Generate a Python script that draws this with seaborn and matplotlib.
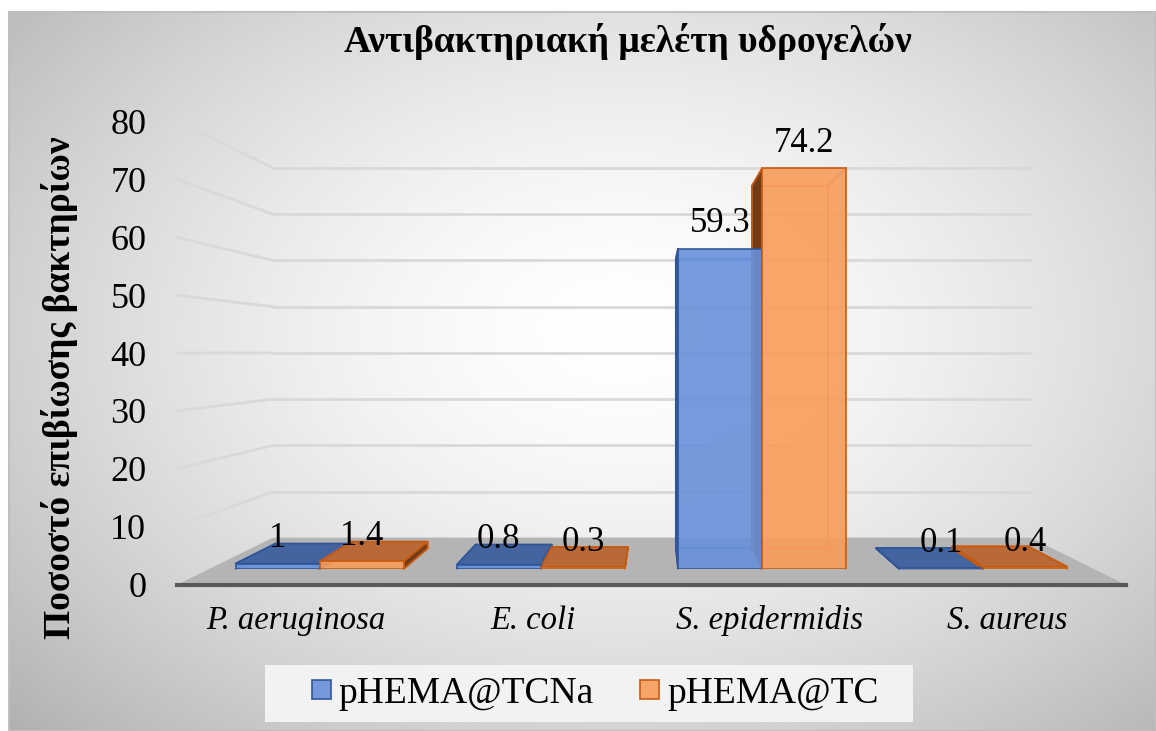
import numpy as np
import pandas as pd
import matplotlib
matplotlib.use("Agg")
import matplotlib.pyplot as plt
import seaborn as sns
from matplotlib.patches import Polygon, Rectangle
from matplotlib.lines import Line2D

# ---- data -------------------------------------------------------------
bacteria = ["P. aeruginosa", "E. coli", "S. epidermidis", "S. aureus"]
survival_tcna = [1, 0.8, 59.3, 0.1]
survival_tc = [1.4, 0.3, 74.2, 0.4]
series_names = ["pHEMA@TCNa", "pHEMA@TC"]
value_ticks = [0, 10, 20, 30, 40, 50, 60, 70, 80]

title_text = "Αντιβακτηριακή μελέτη υδρογελών"
ylabel_text = "Ποσοστό επιβίωσης βακτηρίων"

df = pd.DataFrame({
    "bacteria": bacteria * 2,
    "survival": survival_tcna + survival_tc,
    "series": [series_names[0]] * len(bacteria) + [series_names[1]] * len(bacteria),
})

# ---- styling ----------------------------------------------------------
BLUE, ORANGE = "#6790da", "#f89c5a"
BLUE_EDGE, ORANGE_EDGE = "#2f5597", "#c55a11"
BLUE_TOP, ORANGE_TOP = "#44649f", "#b96937"
BLUE_SIDE, ORANGE_SIDE = "#3d5d9e", "#6e3c19"
BLUE_INNER, ORANGE_INNER = "#5a7fc8", "#e8803a"

W, H = 1156, 731
sns.set_theme(style="white")
plt.rcParams["font.family"] = ["Liberation Serif", "DejaVu Serif"]

fig = plt.figure(figsize=(W / 100, H / 100), dpi=100)

# perspective of the 3-D box (pixel space, y measured from the bottom)
VPX, VPY = 655.0, H - 352.6
FRONT = (209.0, H - 569.0, 885.0, 432.0)   # bars' front plane: x0, y0, w, h
S_FLOOR, S_WALL, S_DEPTH = 1.072, 0.856, 0.905


def proj(x, y, s):
    return VPX + (x - VPX) * s, VPY + (y - VPY) * s


def plane_rect(s):
    x0, y0, w, h = FRONT
    px, py = proj(x0, y0, s)
    return [px / W, py / H, w * s / W, h * s / H]


def to_fig(pts):
    return fig.transFigure.inverted().transform(np.asarray(pts, dtype=float))


# ---- background: soft radial gradient inside a framed chart area ----------
bg = fig.add_axes([0, 0, 1, 1], zorder=-10)
bg.set_xlim(0, W)
bg.set_ylim(0, H)
bg.axis("off")
xx, yy = np.meshgrid(np.arange(W) + 0.5, np.arange(H) + 0.5)
ytd = H - yy
d = np.sqrt(((xx - 620) / 700) ** 2 + ((ytd - 330) / 480) ** 2)
shade = (255 - 58 * np.clip(d, 0, 1.2) ** 1.6) / 255
shade[(xx < 9) | (ytd < 12)] = 1.0
bg.imshow(np.dstack([shade] * 3), extent=(0, W, 0, H), origin="lower",
          aspect="auto", interpolation="bilinear")
bg.add_patch(Rectangle((9, 0), W - 9, H - 12, fill=False, edgecolor="#bfbfbf", lw=1.5))
# legend panel
bg.add_patch(Rectangle((265, H - 722), 648, 57, facecolor="#f2f2f2",
                       edgecolor="none", zorder=2))

# ---- back wall with gridlines --------------------------------------------
ax_wall = fig.add_axes(plane_rect(S_WALL), zorder=1)
ax_wall.set_xlim(-0.5, 3.5)
ax_wall.set_ylim(0, 80)
ax_wall.set_yticks(value_ticks)
ax_wall.set_xticks([])
ax_wall.tick_params(left=False, labelleft=False)
ax_wall.grid(axis="y", color="#d9d9d9", lw=2)
for gl in ax_wall.get_ygridlines():
    gl.set_clip_on(False)
ax_wall.patch.set_alpha(0)
for sp in ax_wall.spines.values():
    sp.set_visible(False)

# ---- front (floor edge) axes: value ticks and category labels -------------
ax_floor = fig.add_axes(plane_rect(S_FLOOR), zorder=2)
ax_floor.set_xlim(-0.5, 3.5)
ax_floor.set_ylim(0, 80)
ax_floor.set_yticks(value_ticks)
ax_floor.set_xticks(range(len(bacteria)), bacteria, fontstyle="italic", fontsize=23.5)
ax_floor.tick_params(axis="y", length=0, pad=22, labelsize=26, colors="black")
ax_floor.tick_params(axis="x", length=0, pad=15, colors="black")
ax_floor.patch.set_alpha(0)
for name, sp in ax_floor.spines.items():
    sp.set_visible(name == "bottom")
ax_floor.spines["bottom"].set_color("#595959")
ax_floor.spines["bottom"].set_linewidth(3)

# side-wall gridlines joining the front edge to the back wall
for v in value_ticks:
    p_front = ax_floor.transData.transform((-0.5, v))
    p_back = ax_wall.transData.transform((-0.5, v))
    pts = to_fig([p_front, p_back])
    ax_wall.add_artist(Line2D(pts[:, 0], pts[:, 1], transform=fig.transFigure,
                              color="#d9d9d9", lw=2, clip_on=False))

# grey floor
fl = ax_floor.transData.transform([(-0.5, 0), (3.5, 0)])
bl = ax_wall.transData.transform([(-0.5, 0), (3.5, 0)])
floor_pts = to_fig([fl[0], fl[1], bl[1], bl[0]])
ax_floor.add_artist(Polygon(floor_pts, closed=True, transform=fig.transFigure,
                            facecolor="#b4b4b4", edgecolor="none", zorder=0.5,
                            clip_on=False))

# ---- bars -------------------------------------------------------------
ax_bar = fig.add_axes(plane_rect(1.0), zorder=3)
sns.barplot(data=df, x="bacteria", y="survival", hue="series",
            palette=[BLUE, ORANGE], width=0.76, saturation=1, ax=ax_bar,
            linewidth=1.3, alpha=0.9)
ax_bar.set_xlim(-0.5, 3.5)
ax_bar.set_ylim(0, 80)
ax_bar.axis("off")
ax_bar.patch.set_alpha(0)

leg = ax_bar.get_legend()
handles = leg.legend_handles
labels = [t.get_text() for t in leg.get_texts()]
leg.remove()

styles = [
    (BLUE_EDGE, BLUE_TOP, BLUE_SIDE, BLUE_INNER),
    (ORANGE_EDGE, ORANGE_TOP, ORANGE_SIDE, ORANGE_INNER),
]
for cont, (edge, top, side, inner) in zip(ax_bar.containers, styles):
    for rect in cont.patches:
        rect.set_edgecolor(edge)
        rect.set_zorder(2)
        x, w, h = rect.get_x(), rect.get_width(), rect.get_height()
        (x0, y0), (x1, y1) = ax_bar.transData.transform([(x, 0), (x + w, h)])
        bx0, by0 = proj(x0, y0, S_DEPTH)
        bx1, by1 = proj(x1, y1, S_DEPTH)
        # hidden edges seen through the translucent front face
        ax_bar.add_artist(Polygon(to_fig([(bx0, by0), (bx1, by0), (bx1, by1), (bx0, by1)]),
                                  closed=True, transform=fig.transFigure, fill=False,
                                  edgecolor=inner, lw=1.2, zorder=1, clip_on=False))
        for (fx, fy), (gx, gy) in [((x0, y0), (bx0, by0)), ((x1, y0), (bx1, by0)),
                                   ((x0, y1), (bx0, by1)), ((x1, y1), (bx1, by1))]:
            pts = to_fig([(fx, fy), (gx, gy)])
            ax_bar.add_artist(Line2D(pts[:, 0], pts[:, 1], transform=fig.transFigure,
                                     color=inner, lw=1.2, zorder=1, clip_on=False))
        # visible outer faces
        faces = []
        if x0 > VPX:
            faces.append(([(x0, y0), (x0, y1), (bx0, by1), (bx0, by0)], side))
        if x1 < VPX:
            faces.append(([(x1, y0), (x1, y1), (bx1, by1), (bx1, by0)], side))
        if y1 < VPY:
            faces.append(([(x0, y1), (x1, y1), (bx1, by1), (bx0, by1)], top))
        for pts, col in faces:
            ax_bar.add_artist(Polygon(to_fig(pts), closed=True, transform=fig.transFigure,
                                      facecolor=col, edgecolor=edge, lw=1.3,
                                      zorder=1.5, clip_on=False))
    ax_bar.bar_label(cont, fmt="%g", padding=6, fontsize=25, color="black", zorder=4)

for hnd, edge in zip(handles, [BLUE_EDGE, ORANGE_EDGE]):
    hnd.set_edgecolor(edge)
    hnd.set_linewidth(1.3)

# ---- texts & legend ---------------------------------------------------
fig.text(628 / W, 1 - 42 / H, title_text, ha="center", va="center",
         fontsize=27, fontweight="bold", color="black")
fig.text(60 / W, 1 - 388 / H, ylabel_text, ha="center", va="center",
         rotation=90, fontsize=27, fontweight="bold", color="black")

fig.legend(handles, labels, loc="center", bbox_to_anchor=(595 / W, 1 - 694 / H),
           ncol=2, frameon=False, fontsize=27, handlelength=0.51,
           handleheight=0.4, handletextpad=0.21, columnspacing=1.23,
           borderpad=0, borderaxespad=0, labelcolor="black")

fig.savefig("out.png", dpi=100)
